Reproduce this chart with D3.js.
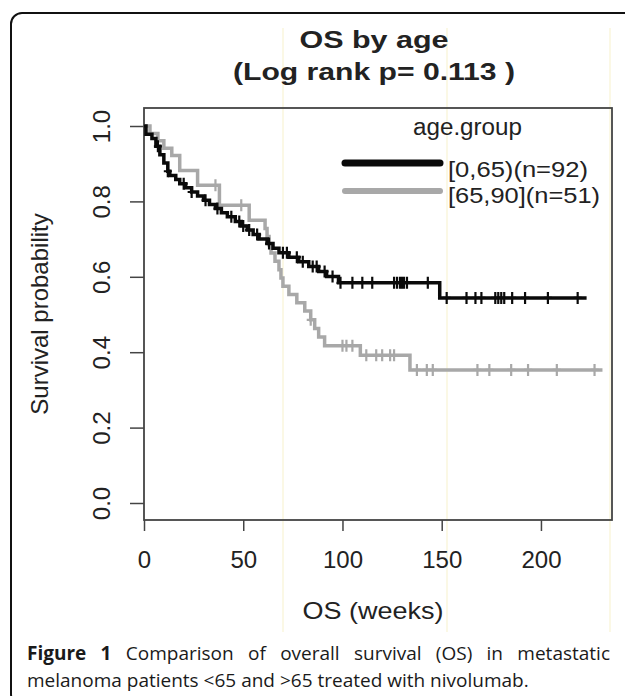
<!DOCTYPE html>
<html>
<head>
<meta charset="utf-8">
<script src="https://cdn.jsdelivr.net/npm/d3@7"></script>
<style>
  html, body { margin: 0; padding: 0; background: #fff; }
  svg { display: block; }
  .chart-text { font-family: "Liberation Sans", Arial, sans-serif; fill: #222; }
  .caption { font-family: "Open Sans", "Noto Sans", sans-serif; fill: #1a1a1a; }
</style>
</head>
<body>
<svg id="chart" width="625" height="696"></svg>
<script>
// ═══════════════════════════════════════════════════════════
// DATA — Kaplan-Meier steps
// ═══════════════════════════════════════════════════════════
const xTicks = [0, 50, 100, 150, 200];
const yTicks = [0, 0.2, 0.4, 0.6, 0.8, 1.0];
const groupLabels = ['[0,65)(n=92)', '[65,90](n=51)'];

// [0,65) — event times (weeks) and survival after each step
const youngTimes = [1, 4, 6, 8, 10, 12, 13, 16, 18, 21, 24, 27, 30, 33, 36, 39, 42, 46, 49, 52, 55, 58, 62, 65, 68, 73, 78, 83, 88, 92, 98, 149];
const youngSurv  = [0.978, 0.967, 0.946, 0.924, 0.902, 0.880, 0.869, 0.858, 0.847, 0.836, 0.825, 0.814, 0.803, 0.792, 0.781, 0.770, 0.759, 0.747, 0.735, 0.724, 0.712, 0.700, 0.688, 0.676, 0.664, 0.652, 0.640, 0.627, 0.614, 0.601, 0.584, 0.544];
const youngCensor = [7, 12, 20, 24, 31, 37, 44, 48, 50, 53, 57, 63, 70, 72, 77, 80, 85, 87, 91, 95, 99, 105, 110, 115, 126, 127.5, 129, 130, 131, 132.5, 143, 152.5, 162.5, 167, 170, 177, 178.5, 180, 181.5, 185.5, 192, 203.5, 218.5];
const youngEnd = 223;

// [65,90]
const oldTimes = [3, 7, 10, 14, 18, 27, 38, 53, 61, 62, 63, 64, 66, 68, 69, 70, 73, 77, 81, 84, 86, 88, 91, 109, 134];
const oldSurv  = [0.980, 0.961, 0.941, 0.922, 0.882, 0.843, 0.790, 0.750, 0.728, 0.707, 0.685, 0.663, 0.641, 0.619, 0.597, 0.575, 0.553, 0.531, 0.509, 0.486, 0.463, 0.440, 0.417, 0.392, 0.353];
const oldCensor = [36, 49, 84, 100, 102, 105, 112, 117, 120, 124, 126, 137.5, 142.5, 145.5, 168, 174, 185, 193.5, 208, 227];
const oldEnd = 231;

// ═══════════════════════════════════════════════════════════
// LAYOUT
// ═══════════════════════════════════════════════════════════
const svg = d3.select('#chart');
const plot = { left: 144, right: 612, top: 108, bottom: 520 };

const x = d3.scaleLinear().domain([0, 235.8]).range([plot.left, plot.right]);
const y = d3.scaleLinear().domain([0, 1]).range([503, 126]);

// outer frame of the figure (runs off the right / bottom edge)
svg.append('rect')
  .attr('x', 11).attr('y', 13)
  .attr('width', 650).attr('height', 692)
  .attr('rx', 11)
  .attr('fill', 'none')
  .attr('stroke', '#111')
  .attr('stroke-width', 2);

// faint scan lines from the original image
[283, 447, 610].forEach(lx => {
  svg.append('line')
    .attr('x1', lx).attr('x2', lx)
    .attr('y1', 28).attr('y2', 632)
    .attr('stroke', '#faf6dc')
    .attr('stroke-width', 1.5);
});

// ═══════════════════════════════════════════════════════════
// TITLE
// ═══════════════════════════════════════════════════════════
svg.append('text')
  .attr('class', 'chart-text')
  .attr('x', 374).attr('y', 48)
  .attr('text-anchor', 'middle')
  .attr('font-size', 24).attr('font-weight', 'bold')
  .attr('textLength', 149).attr('lengthAdjust', 'spacingAndGlyphs')
  .text('OS by age');

svg.append('text')
  .attr('class', 'chart-text')
  .attr('x', 374).attr('y', 80)
  .attr('text-anchor', 'middle')
  .attr('font-size', 24).attr('font-weight', 'bold')
  .attr('textLength', 282).attr('lengthAdjust', 'spacingAndGlyphs')
  .text('(Log rank p= 0.113 )');

// ═══════════════════════════════════════════════════════════
// AXES
// ═══════════════════════════════════════════════════════════
const axisColor = '#444';

const xAxis = svg.append('g')
  .attr('transform', `translate(0,${plot.bottom})`)
  .call(d3.axisBottom(x).tickValues(xTicks).tickSize(11).tickPadding(20));
xAxis.select('.domain').remove();
xAxis.selectAll('line').attr('stroke', axisColor).attr('stroke-width', 1.5);
xAxis.selectAll('text')
  .attr('class', 'chart-text')
  .attr('fill', '#222')
  .style('font-size', '24px');

const yAxis = svg.append('g')
  .attr('transform', `translate(${plot.left},0)`)
  .call(d3.axisLeft(y).tickValues(yTicks).tickSize(14).tickFormat(d3.format('.1f')));
yAxis.select('.domain').remove();
yAxis.selectAll('line').attr('stroke', axisColor).attr('stroke-width', 1.5);
yAxis.selectAll('text')
  .attr('class', 'chart-text')
  .attr('fill', '#222')
  .attr('x', null).attr('dy', null)
  .attr('text-anchor', 'middle')
  .attr('transform', `translate(${110 - plot.left},0) rotate(-90)`)
  .style('font-size', '24px');

// plot box
svg.append('rect')
  .attr('x', plot.left).attr('y', plot.top)
  .attr('width', plot.right - plot.left)
  .attr('height', plot.bottom - plot.top)
  .attr('fill', 'none')
  .attr('stroke', axisColor)
  .attr('stroke-width', 1.8);

svg.append('text')
  .attr('class', 'chart-text')
  .attr('x', 373).attr('y', 619)
  .attr('text-anchor', 'middle')
  .attr('font-size', 24)
  .attr('textLength', 141).attr('lengthAdjust', 'spacingAndGlyphs')
  .text('OS (weeks)');

svg.append('text')
  .attr('class', 'chart-text')
  .attr('transform', `translate(48,${(plot.top + plot.bottom) / 2}) rotate(-90)`)
  .attr('text-anchor', 'middle')
  .attr('font-size', 24)
  .text('Survival probability');

// ═══════════════════════════════════════════════════════════
// CURVES
// ═══════════════════════════════════════════════════════════
function stepPoints(times, surv, end) {
  const pts = [[0, 1]];
  times.forEach((t, i) => pts.push([t, surv[i]]));
  pts.push([end, surv[surv.length - 1]]);
  return pts;
}

function survAt(times, surv, t) {
  let s = 1;
  for (let i = 0; i < times.length; i++) {
    if (times[i] <= t) s = surv[i];
  }
  return s;
}

const line = d3.line()
  .x(d => x(d[0]))
  .y(d => y(d[1]))
  .curve(d3.curveStepAfter);

const groups = [
  { times: oldTimes,   surv: oldSurv,   censor: oldCensor,   end: oldEnd,   color: '#a8a8a8', width: 3.5 },
  { times: youngTimes, surv: youngSurv, censor: youngCensor, end: youngEnd, color: '#0a0a0a', width: 3.5 }
];

groups.forEach(g => {
  svg.append('path')
    .datum(stepPoints(g.times, g.surv, g.end))
    .attr('d', line)
    .attr('fill', 'none')
    .attr('stroke', g.color)
    .attr('stroke-width', g.width);

  svg.append('g')
    .selectAll('path')
    .data(g.censor)
    .join('path')
    .attr('d', t => {
      const cx = x(t), cy = y(survAt(g.times, g.surv, t));
      return `M${cx},${cy - 6}V${cy + 6}M${cx - 4},${cy}H${cx + 4}`;
    })
    .attr('stroke', g.color)
    .attr('stroke-width', 2.2);
});

// ═══════════════════════════════════════════════════════════
// LEGEND
// ═══════════════════════════════════════════════════════════
svg.append('text')
  .attr('class', 'chart-text')
  .attr('x', 413).attr('y', 135)
  .attr('font-size', 23)
  .attr('textLength', 109).attr('lengthAdjust', 'spacingAndGlyphs')
  .text('age.group');

const legendRows = [
  { label: groupLabels[0], color: '#0a0a0a', width: 7, ly: 163, ty: 177, len: 140 },
  { label: groupLabels[1], color: '#a8a8a8', width: 6, ly: 191, ty: 203, len: 152 }
];

legendRows.forEach(r => {
  svg.append('line')
    .attr('x1', 345).attr('x2', 440)
    .attr('y1', r.ly).attr('y2', r.ly)
    .attr('stroke', r.color)
    .attr('stroke-width', r.width)
    .attr('stroke-linecap', 'round');
  svg.append('text')
    .attr('class', 'chart-text')
    .attr('x', 448).attr('y', r.ty)
    .attr('font-size', 22)
    .attr('textLength', r.len).attr('lengthAdjust', 'spacingAndGlyphs')
    .text(r.label);
});

// ═══════════════════════════════════════════════════════════
// CAPTION — first line justified
// ═══════════════════════════════════════════════════════════
const capLeft = 27, capRight = 610, capSize = 19;
const line1 = [
  { w: 'Figure', bold: true }, { w: '1', bold: true },
  ...'Comparison of overall survival (OS) in metastatic'.split(' ').map(w => ({ w, bold: false }))
];

const words = svg.append('g').attr('class', 'caption').style('font-size', `${capSize}px`);
const nodes = line1.map(d => words.append('text')
  .attr('y', 660)
  .attr('font-weight', d.bold ? 'bold' : 'normal')
  .text(d.w));
const widths = nodes.map(n => n.node().getComputedTextLength());
const gap = (capRight - capLeft - d3.sum(widths)) / (nodes.length - 1);
let cursor = capLeft;
nodes.forEach((n, i) => {
  n.attr('x', cursor);
  cursor += widths[i] + gap;
});

words.append('text')
  .attr('x', capLeft).attr('y', 687)
  .text('melanoma patients <65 and >65 treated with nivolumab.');
</script>
</body>
</html>
